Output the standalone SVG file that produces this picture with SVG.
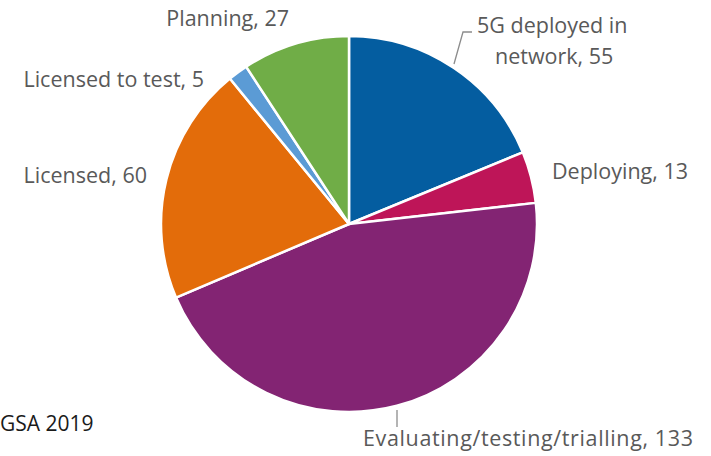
<svg xmlns="http://www.w3.org/2000/svg" width="711" height="456" viewBox="0 0 711 456">
<style>
.lbl{font-family:"Open Sans","Liberation Sans",sans-serif;font-size:21.5px;fill:#595959}
.src{font-family:"Open Sans","Liberation Sans",sans-serif;font-size:21px;fill:#1a1a1a}
.slice{stroke:#ffffff;stroke-width:2.5;stroke-linejoin:round}
.lead{stroke:#8c8c8c;stroke-width:1.3;fill:none}
</style>
<rect width="711" height="456" fill="#ffffff"/>
<g id="slice-5g">
<path class="slice" fill="#045DA0" d="M349,224 L349,36 A188,188 0 0 1 522.8,152.35 Z"/>
</g>
<g id="slice-deploying">
<path class="slice" fill="#BE1558" d="M349,224 L522.8,152.35 A188,188 0 0 1 535.81,202.88 Z"/>
</g>
<g id="slice-evaluating">
<path class="slice" fill="#832473" d="M349,224 L535.81,202.88 A188,188 0 0 1 175.99,297.58 Z"/>
</g>
<g id="slice-licensed">
<path class="slice" fill="#E36C0A" d="M349,224 L175.99,297.58 A188,188 0 0 1 229.89,78.54 Z"/>
</g>
<g id="slice-licensed-test">
<path class="slice" fill="#5B9BD5" d="M349,224 L229.89,78.54 A188,188 0 0 1 246.13,66.64 Z"/>
</g>
<g id="slice-planning">
<path class="slice" fill="#70AD47" d="M349,224 L246.13,66.64 A188,188 0 0 1 349,36 Z"/>
</g>
<g id="connectors">
<polyline class="lead" points="454,64 463,32 472,32"/>
<line class="lead" x1="397" y1="410" x2="397" y2="427"/>
</g>
<g id="labels">
<text class="lbl" x="477" y="33">5G deployed in</text>
<text class="lbl" x="495" y="64">network, 55</text>
<text class="lbl" x="552" y="179">Deploying, 13</text>
<text class="lbl" x="363" y="446" textLength="330" lengthAdjust="spacing">Evaluating/testing/trialling, 133</text>
<text class="lbl" x="147" y="183" text-anchor="end">Licensed, 60</text>
<text class="lbl" x="204" y="87" text-anchor="end">Licensed to test, 5</text>
<text class="lbl" x="289" y="26" text-anchor="end">Planning, 27</text>
<text class="src" x="0" y="431">GSA 2019</text>
</g>
</svg>
